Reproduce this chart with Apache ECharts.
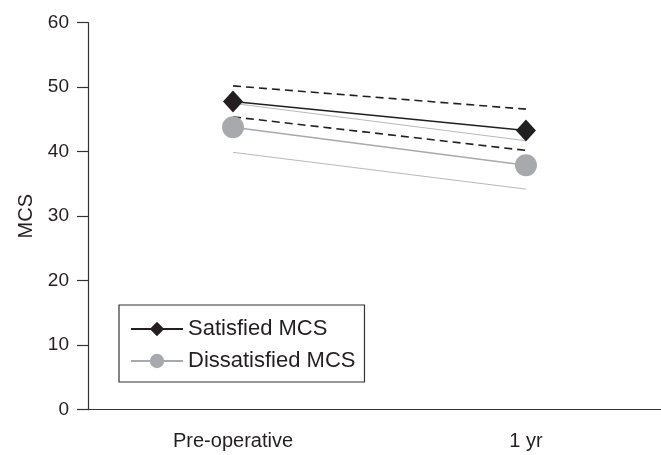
<!DOCTYPE html>
<html><head><meta charset="utf-8">
<script src="https://cdn.jsdelivr.net/npm/echarts@6/dist/echarts.min.js"></script>
<style>html,body{margin:0;padding:0;background:#fff}#c{width:661px;height:455px}</style>
</head><body><div id="c"></div>
<script>
const categories = ['Pre-operative', '1 yr'];
const satisfied = [47.8, 43.3];
const satisfiedUpper = [50.2, 46.6];
const satisfiedLower = [45.4, 40.2];
const dissatisfied = [43.8, 37.9];
const dissatisfiedUpper = [47.5, 41.7];
const dissatisfiedLower = [39.9, 34.2];
const yTicks = [0, 10, 20, 30, 40, 50, 60];

const pairs = arr => arr.map((v, i) => [i, v]);
const font = 'Liberation Sans, Arial, sans-serif';
const chart = echarts.init(document.getElementById('c'));
chart.setOption({
  backgroundColor: '#fff',
  animation: false,
  textStyle: { fontFamily: font },
  grid: { left: 88, right: 0, top: 22.7, bottom: 45.3 },
  legend: {
    data: ['Satisfied MCS', 'Dissatisfied MCS'],
    orient: 'vertical',
    left: 119, top: 305,
    borderColor: '#333', borderWidth: 1.2,
    padding: [13, 9, 10, 11],
    itemWidth: 52, itemHeight: 18, itemGap: 10,
    textStyle: { fontSize: 22, color: '#231f20', fontFamily: font }
  },
  xAxis: {
    type: 'value', min: -0.495, max: 1.461,
    axisLine: { show: true, onZero: false, lineStyle: { color: '#333', width: 1.2 } },
    axisTick: { show: false },
    splitLine: { show: false },
    axisLabel: {
      customValues: categories.map((c, i) => i),
      formatter: v => categories[Math.round(v)] || '',
      fontSize: 20, color: '#231f20', margin: 22, fontFamily: font
    }
  },
  yAxis: {
    type: 'value', min: yTicks[0], max: yTicks[yTicks.length - 1], interval: 10,
    name: 'MCS', nameLocation: 'middle', nameGap: 49, nameRotate: 90,
    nameTextStyle: { fontSize: 20, color: '#231f20', fontFamily: font },
    axisLine: { show: true, onZero: false, lineStyle: { color: '#333', width: 1.2 } },
    axisTick: { show: true, length: 11, lineStyle: { color: '#333', width: 1.2 } },
    axisLabel: { fontSize: 19, color: '#231f20', margin: 19, fontFamily: font },
    splitLine: { show: false }
  },
  series: [
    { name: 'upperS', type: 'line', data: pairs(satisfiedUpper), symbol: 'none', silent: true,
      lineStyle: { color: '#231f20', width: 1.6, type: [8, 5] }, z: 2 },
    { name: 'lowerS', type: 'line', data: pairs(satisfiedLower), symbol: 'none', silent: true,
      lineStyle: { color: '#231f20', width: 1.6, type: [8, 5] }, z: 2 },
    { name: 'upperD', type: 'line', data: pairs(dissatisfiedUpper), symbol: 'none', silent: true,
      lineStyle: { color: '#b8b9bb', width: 1 }, z: 2 },
    { name: 'lowerD', type: 'line', data: pairs(dissatisfiedLower), symbol: 'none', silent: true,
      lineStyle: { color: '#b8b9bb', width: 1 }, z: 2 },
    { name: 'Dissatisfied MCS', type: 'line', data: pairs(dissatisfied), symbol: 'circle', symbolSize: 22,
      itemStyle: { color: '#a7a9ac' }, lineStyle: { color: '#a7a9ac', width: 1.5 }, z: 3 },
    { name: 'Satisfied MCS', type: 'line', data: pairs(satisfied), symbol: 'diamond', symbolSize: [20, 22],
      itemStyle: { color: '#231f20' }, lineStyle: { color: '#231f20', width: 1.5 }, z: 4 }
  ]
});
</script></body></html>
